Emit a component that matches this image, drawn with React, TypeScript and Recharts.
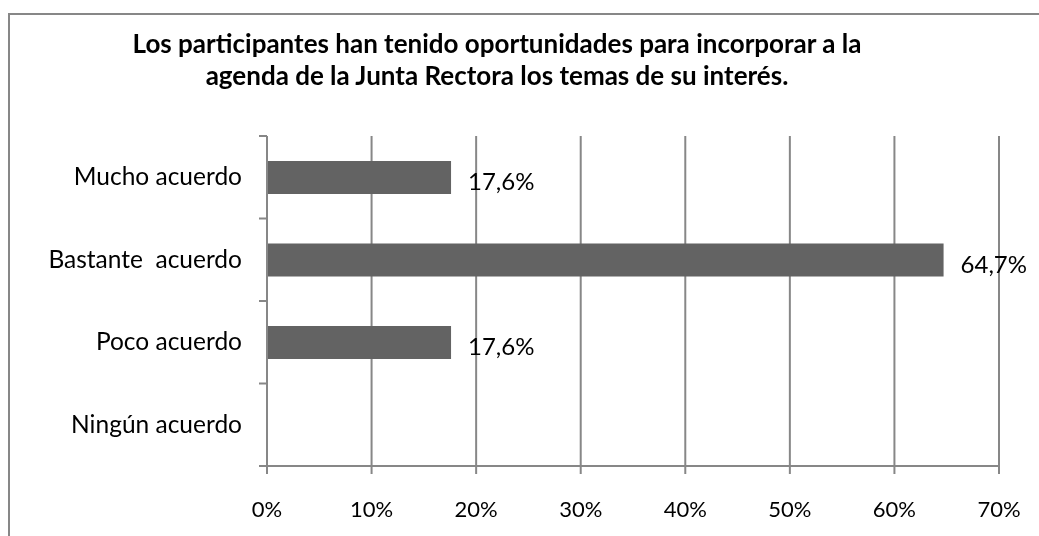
import React from "react";
import {
  BarChart,
  Bar,
  XAxis,
  YAxis,
  CartesianGrid,
  LabelList,
} from "recharts";

const categories = ["Mucho acuerdo", "Bastante  acuerdo", "Poco acuerdo", "Ningún acuerdo"];
const percentages = [17.6, 64.7, 17.6, 0];
const xTicks = [0, 10, 20, 30, 40, 50, 60, 70];

const titleLines = [
  "Los participantes han tenido oportunidades para incorporar a la",
  "agenda de la Junta Rectora los temas de su interés.",
];

const data = categories.map((name, i) => ({ name, value: percentages[i] }));

const GRAY = "#878787";
const FONT = "Lato, 'Liberation Sans', sans-serif";
const TICK_SIZE = 8;
const TICK_MARGIN = 17;

function valueLabel(v: number) {
  if (!v) return "";
  return v.toFixed(1).replace(".", ",") + "%";
}

// category tick: label at band centre, tick mark at band edges (Excel style)
function CategoryTick(props: any) {
  const { x, y, payload, index, visibleTicksCount } = props;
  const half = payload.offset || 0;
  const x1 = x + TICK_MARGIN;
  const x2 = x1 + TICK_SIZE;
  const isLast = index === visibleTicksCount - 1;
  return (
    <g>
      <line x1={x1} x2={x2} y1={y - half} y2={y - half} stroke={GRAY} strokeWidth={2} />
      {isLast && <line x1={x1} x2={x2} y1={y + half} y2={y + half} stroke={GRAY} strokeWidth={2} />}
      <text
        x={x}
        y={y}
        dy={8}
        textAnchor="end"
        fill="#000"
        fontSize={24.5}
        fontFamily={FONT}
        style={{ whiteSpace: "pre" }}
      >
        {payload.value}
      </text>
    </g>
  );
}

export default function App() {
  return (
    <div style={{ position: "fixed", left: 8, top: 8, width: 1031, height: 528, overflow: "hidden", fontFamily: FONT }}>
      <div
        style={{
          position: "absolute",
          left: 0,
          top: 5,
          width: 1100,
          height: 600,
          border: `2px solid ${GRAY}`,
          boxSizing: "border-box",
        }}
      />
      <div
        style={{
          position: "absolute",
          left: 0,
          top: 19,
          width: 978,
          textAlign: "center",
          fontWeight: 700,
          fontSize: 26,
          lineHeight: "32px",
          color: "#000",
        }}
      >
        {titleLines.map((t) => (
          <div key={t}>{t}</div>
        ))}
      </div>
      <div style={{ position: "absolute", left: 0, top: 0 }}>
        <BarChart
          width={1031}
          height={528}
          data={data}
          layout="vertical"
          barSize={33}
          margin={{ top: 128, right: 40, left: 0, bottom: 0 }}
        >
          <CartesianGrid horizontal={false} stroke={GRAY} strokeWidth={2} />
          <XAxis
            type="number"
            domain={[0, 70]}
            ticks={xTicks}
            tickFormatter={(v) => `${v}%`}
            height={70}
            tickSize={TICK_SIZE}
            tickMargin={27}
            axisLine={{ stroke: GRAY, strokeWidth: 2 }}
            tickLine={{ stroke: GRAY, strokeWidth: 2 }}
            tick={{ fill: "#000", fontSize: 22, fontFamily: FONT }}
            interval={0}
          />
          <YAxis
            type="category"
            dataKey="name"
            width={259}
            tickSize={TICK_SIZE}
            tickMargin={TICK_MARGIN}
            axisLine={{ stroke: GRAY, strokeWidth: 2 }}
            tickLine={false}
            tick={<CategoryTick />}
            interval={0}
          />
          <Bar dataKey="value" fill="#636363" isAnimationActive={false}>
            <LabelList
              dataKey="value"
              position="right"
              offset={17}
              formatter={valueLabel}
              dy={4}
              style={{ fill: "#000", fontSize: 24, fontFamily: FONT }}
            />
          </Bar>
        </BarChart>
      </div>
    </div>
  );
}
